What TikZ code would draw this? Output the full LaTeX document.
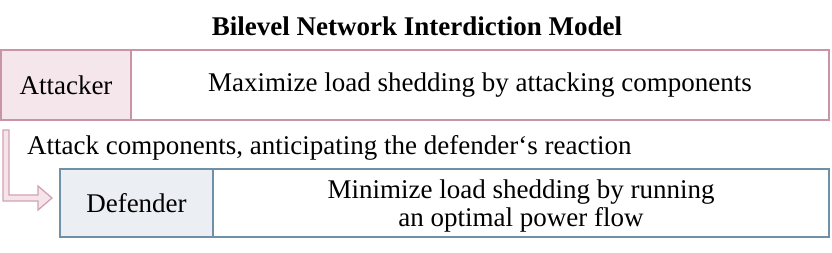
\documentclass[tikz,border=0pt]{standalone}
\usepackage{fontspec}
\setmainfont{Liberation Serif}
\definecolor{attline}{HTML}{C994A8}
\definecolor{attfill}{HTML}{F4E6EB}
\definecolor{defline}{HTML}{7090A8}
\definecolor{deffill}{HTML}{EBEEF2}
\definecolor{arrline}{HTML}{D2A2B5}
\definecolor{arrfill}{HTML}{F5E4EA}
\begin{document}
\begin{tikzpicture}[x=1pt,y=-1pt,
  txt/.style={font=\fontsize{27}{28}\selectfont, inner sep=0pt},
  attbox/.style={draw=attline, line width=2pt, rectangle, minimum height=70pt, inner sep=0pt, font=\fontsize{27}{28}\selectfont},
  defbox/.style={draw=defline, line width=2pt, rectangle, minimum height=68pt, inner sep=0pt, font=\fontsize{27}{28}\selectfont, align=center},
  hollowarrow/.style={draw=arrline, fill=arrfill, line width=1.3pt, line join=miter}
]
\useasboundingbox (0,0) rectangle (832,252);
\node[txt, font=\fontsize{27}{28}\selectfont\bfseries] (title) at (417,26) {Bilevel Network Interdiction Model};
\node[attbox, minimum width=698pt] (attmain) at (480,85) {Maximize load shedding by attacking components};
\node[attbox, fill=attfill, minimum width=130pt] (att) at (66,85) {Attacker};
\node[defbox, minimum width=616pt, text depth=0pt] (defmain) at (521,203) {Minimize load shedding by running\\an optimal power flow};
\node[defbox, fill=deffill, minimum width=153pt] (def) at (136.5,203) {Defender};
\node[txt, anchor=west] (lbl) at (27,148) {Attack components, anticipating the defender‘s reaction};
\draw[hollowarrow] (3,130) -- (9,130) -- (9,195) -- (38,195) -- (38,186) -- (52,198) -- (38,210) -- (38,201) -- (3,201) -- cycle;
\end{tikzpicture}
\end{document}
